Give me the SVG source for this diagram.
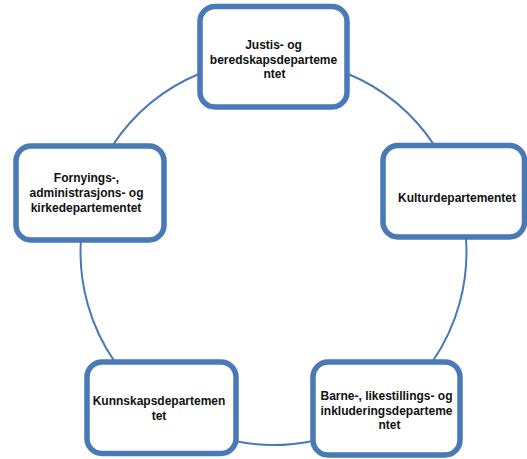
<svg xmlns="http://www.w3.org/2000/svg" width="527" height="459" viewBox="0 0 527 459">
<style>
.box{fill:#ffffff;stroke:#4A7AB5;stroke-width:5.5}
.conn{fill:none;stroke:#4A7AB5;stroke-width:2}
.lbl{font-family:"Liberation Sans",Arial,sans-serif;font-weight:bold;font-size:12px;fill:#111111;text-anchor:middle}
</style>
<rect width="527" height="459" fill="#ffffff"/>
<g id="connectors">
<path class="conn" d="M347,73.5 A193,193 0 0 1 434.5,145.5"/>
<path class="conn" d="M465.9,237 A193,193 0 0 1 432.1,362"/>
<path class="conn" d="M313,440.9 A193,193 0 0 1 236,441.3"/>
<path class="conn" d="M114.9,362 A193,193 0 0 1 80.9,240"/>
<path class="conn" d="M112.2,146 A193,193 0 0 1 200,73.5"/>
</g>
<g id="node-justis">
<rect class="box" x="200" y="6.5" width="147" height="100.5" rx="15"/>
<text class="lbl" x="273.5" y="48.5">Justis- og</text>
<text class="lbl" x="273.5" y="63.5">beredskapsdeparteme</text>
<text class="lbl" x="274.5" y="78">ntet</text>
</g>
<g id="node-kultur">
<rect class="box" x="383" y="145.5" width="141.5" height="91.5" rx="15"/>
<text class="lbl" x="457" y="201.5">Kulturdepartementet</text>
</g>
<g id="node-barne">
<rect class="box" x="313" y="362" width="147" height="93" rx="15"/>
<text class="lbl" x="386.5" y="400">Barne-, likestillings- og</text>
<text class="lbl" x="386.5" y="414.5">inkluderingsdeparteme</text>
<text class="lbl" x="389.5" y="428.5">ntet</text>
</g>
<g id="node-kunnskap">
<rect class="box" x="87" y="362" width="149" height="91.5" rx="15"/>
<text class="lbl" x="159" y="405">Kunnskapsdepartemen</text>
<text class="lbl" x="159" y="420">tet</text>
</g>
<g id="node-fornying">
<rect class="box" x="16" y="146" width="148" height="94" rx="15"/>
<text class="lbl" x="86.5" y="182">Fornyings-,</text>
<text class="lbl" x="86.5" y="197">administrasjons- og</text>
<text class="lbl" x="86" y="211.5">kirkedepartementet</text>
</g>
</svg>
